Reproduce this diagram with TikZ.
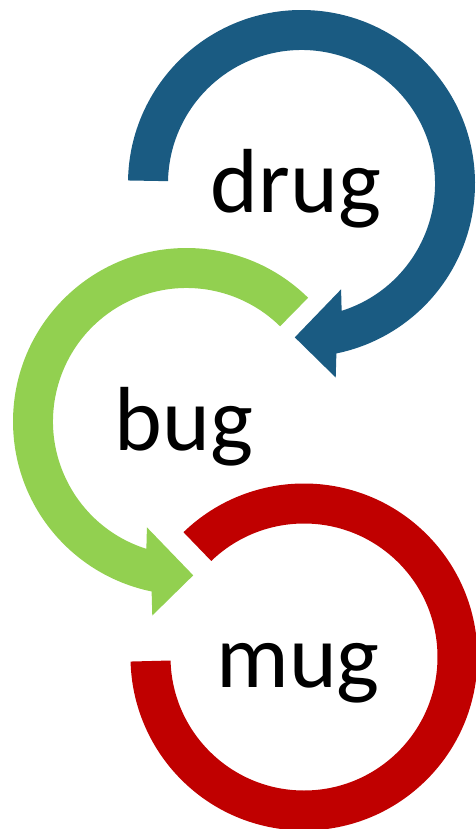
\documentclass[tikz,border=0pt]{standalone}
\usepackage{fontspec}
\setmainfont{Carlito}
\definecolor{bluec}{HTML}{1A5B82}
\definecolor{greenc}{HTML}{92D050}
\definecolor{redc}{HTML}{C00000}
\begin{document}
\begin{tikzpicture}[x=1pt,y=1pt,
  lbl/.style={inner sep=0pt, anchor=base, font=\fontsize{91}{100}\selectfont, text=black}]
\useasboundingbox (0,0) rectangle (475,-829);
% blue arrow (clockwise)
\coordinate (cb) at (301.5,-183.5);
\fill[bluec] ([shift={(cb)}]179:173.5pt) arc[start angle=179, end angle=-78.4, radius=173.5pt]
  -- ([shift={(cb)}]-80:197pt) -- ([shift={(cb)}]-92.5:154pt)
  -- ([shift={(cb)}]-69.5:113pt) -- ([shift={(cb)}]-72.5:133.5pt)
  arc[start angle=-72.5, end angle=179, radius=133.5pt] -- cycle;
% green arrow (counter-clockwise)
\coordinate (cg) at (186.5,-421.5);
\fill[greenc] ([shift={(cg)}]45.5:173.5pt) arc[start angle=45.5, end angle=258.4, radius=173.5pt]
  -- ([shift={(cg)}]260:197pt) -- ([shift={(cg)}]272.5:154pt)
  -- ([shift={(cg)}]249.5:113pt) -- ([shift={(cg)}]252.5:133.5pt)
  arc[start angle=252.5, end angle=45.5, radius=133.5pt] -- cycle;
% red ring
\coordinate (cr) at (304,-657);
\fill[redc] ([shift={(cr)}]134:173.5pt) arc[start angle=134, end angle=-178.5, radius=173.5pt]
  -- ([shift={(cr)}]-178.5:133.5pt)
  arc[start angle=-178.5, end angle=134, radius=133.5pt] -- cycle;
% labels
\node[lbl] (drug) at (296,-212) {drug};
\node[lbl] (bug) at (184,-450) {bug};
\node[lbl] (mug) at (298,-687) {mug};
\end{tikzpicture}
\end{document}
